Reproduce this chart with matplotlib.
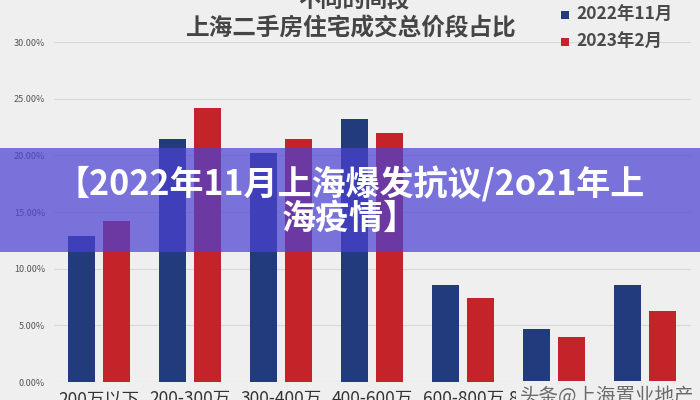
import matplotlib
matplotlib.use("Agg")
import matplotlib.pyplot as plt
import numpy as np
from matplotlib.patches import Rectangle

plt.rcParams['font.family'] = ['Noto Sans CJK SC', 'DejaVu Sans']

categories = ["200万以下", "200-300万", "300-400万", "400-600万", "600-800万", "800-1000万", "1000万以上"]
series_names = ["2022年11月", "2023年2月"]
nov_2022 = [12.9, 21.4, 20.2, 23.2, 8.6, 4.7, 8.6]
feb_2023 = [14.2, 24.2, 21.4, 22.0, 7.4, 4.0, 6.3]
yticks = [0, 5, 10, 15, 20, 25, 30]

BLUE = "#213b7c"
RED = "#c4232a"
BG = "#efefef"

fig = plt.figure(figsize=(7, 4), dpi=100, facecolor=BG)
ax = fig.add_axes([53.5 / 700, 18 / 400, 637 / 700, 340 / 400])
ax.set_facecolor("none")

x = np.arange(len(categories))
w = 0.297
off = 0.188
ax.bar(x - off, nov_2022, width=w, color=BLUE, zorder=3)
ax.bar(x + off, feb_2023, width=w, color=RED, zorder=3)

ax.set_xlim(-0.5, len(categories) - 0.5)
ax.set_ylim(0, 30)
ax.set_yticks(yticks)
ax.set_yticklabels([f"{v:.2f}%" for v in yticks], fontsize=6.5, color="#555555")
ax.yaxis.grid(True, color="#d8d8d8", linewidth=0.8, zorder=0)
ax.set_xticks(x)
ax.set_xticklabels(categories, fontsize=12.5, color="#333333")
ax.tick_params(axis="both", length=0)
ax.tick_params(axis="x", pad=6)
ax.tick_params(axis="y", pad=6)
for s in ax.spines.values():
    s.set_visible(False)

# Title
fig.text(354 / 700, 1 - 0 / 400, "不同的间段", ha="center", va="center",
         fontsize=16, fontweight="bold", color="#454545")
fig.text(351 / 700, 1 - 28 / 400, "上海二手房住宅成交总价段占比", ha="center", va="center",
         fontsize=17, fontweight="bold", color="#454545")

# Legend
for i, (name, col) in enumerate(zip(series_names, [BLUE, RED])):
    yc = 15 + i * 27
    fig.patches.append(Rectangle((561 / 700, 1 - (yc + 4) / 400), 8 / 700, 8 / 400,
                                 transform=fig.transFigure, facecolor=col, edgecolor="none",
                                 figure=fig))
    fig.text(576 / 700, 1 - yc / 400, name, ha="left", va="center",
             fontsize=12.5, fontweight="bold", color="#4a4a4a")

# Banner overlay
fig.patches.append(Rectangle((0, 1 - 252 / 400), 1, 104 / 400, transform=fig.transFigure,
                             facecolor="#4b42d2", edgecolor="none", linewidth=0,
                             alpha=0.72, zorder=10, figure=fig))
fig.text(0.5, 1 - 184 / 400, "【2022年11月上海爆发抗议/2o21年上", ha="center", va="center",
         fontsize=24.5, fontweight="bold", color="white", zorder=11)
fig.text(0.5, 1 - 218 / 400, "海疫情】", ha="center", va="center",
         fontsize=24.5, fontweight="bold", color="white", zorder=11)

# Watermark
fig.text(520 / 700, 1 - 396 / 400, "头条@上海置业地产", ha="left", va="center",
         fontsize=14, color="#6a6a6a", zorder=12,
         bbox=dict(facecolor=BG, edgecolor="none", pad=3))

fig.savefig("out.png", dpi=100, facecolor=BG)
